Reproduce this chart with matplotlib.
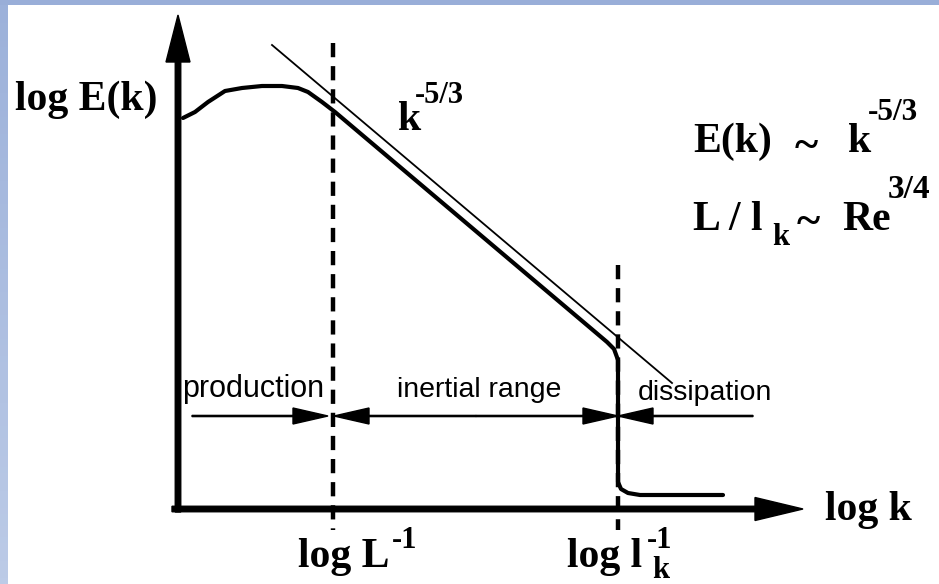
import numpy as np
import matplotlib
matplotlib.use("Agg")
import matplotlib.pyplot as plt

# schematic coordinates: x = log k, y = log E (axis corner at 0,0)
spec_x = [0.05, 0.17, 0.30, 0.47, 0.64, 0.84, 1.04, 1.20, 1.30, 1.44, 1.57,
          4.29, 4.36, 4.40, 4.40, 4.43, 4.50, 4.62, 5.45]
spec_y = [3.91, 3.97, 4.07, 4.18, 4.21, 4.23, 4.23, 4.21, 4.17, 4.07, 3.97,
          1.67, 1.60, 1.49, 0.27, 0.20, 0.16, 0.14, 0.14]

# k^-5/3 reference line
ref_x = [0.94, 4.94]
ref_y = [4.64, 1.26]

# dashed markers: log L^-1 and log l_k^-1
mark_x = [1.55, 4.40]
mark_top = [4.66, 2.44]
mark_bottom = -0.21

# region arrows (start, tip) along one row
arrow_row = 0.93
region_arrows = [(0.14, 1.50), (2.98, 1.56), (2.98, 4.40), (5.75, 4.40)]
region_names = ["production", "inertial range", "dissipation"]
region_name_x = [0.04, 2.19, 4.60]
region_name_y = [1.12, 1.12, 1.09]
region_name_size = [22, 20.5, 20.5]

serif = "Liberation Serif"
sans = "Liberation Sans"

fig = plt.figure(figsize=(9.39, 5.84), dpi=100)
fig.patch.set_facecolor("white")
ax = fig.add_axes([0, 0, 1, 1])
ax.set_xlim(-1.78, 7.61)
ax.set_ylim(-0.75, 5.09)
ax.axis("off")

# blue slide border
grad = np.linspace(0, 1, 100).reshape(-1, 1)
bax = fig.add_axes([0, 0, 8 / 939, 1])
bax.imshow(grad, aspect="auto", cmap=matplotlib.colors.LinearSegmentedColormap.from_list(
    "b", ["#9cb1da", "#bccbe7"]), extent=[0, 1, 1, 0])
bax.axis("off")
tax = fig.add_axes([0, 1 - 5 / 584, 1, 5 / 584])
tax.set_facecolor("#99aed8")
tax.set_xticks([]); tax.set_yticks([])
for s in tax.spines.values():
    s.set_visible(False)

# axes with arrows
ax.arrow(0, -0.03, 0, 4.97, width=0.055, head_width=0.24, head_length=0.47,
         length_includes_head=True, color="black", zorder=3)
ax.arrow(-0.06, 0, 6.31, 0, width=0.055, head_width=0.23, head_length=0.48,
         length_includes_head=True, color="black", zorder=3)

# spectrum and reference slope
ax.plot(spec_x, spec_y, color="black", lw=3.0, solid_capstyle="round",
        solid_joinstyle="round", zorder=4)
ax.plot(ref_x, ref_y, color="black", lw=1.3, zorder=4)

for mx, mt in zip(mark_x, mark_top):
    ax.plot([mx, mx], [mt, mark_bottom], color="black", lw=3.2,
            linestyle=(0, (3.2, 2.0)), zorder=5)

for x0, x1 in region_arrows:
    ax.arrow(x0, arrow_row, x1 - x0, 0, width=0.012, head_width=0.16,
             head_length=0.35, length_includes_head=True, color="black", zorder=4)

for name, nx, ny, fs in zip(region_names, region_name_x, region_name_y, region_name_size):
    ax.text(nx, ny, name, family=sans, fontsize=fs, ha="left", va="baseline")

# bold serif labels
bold = dict(family=serif, fontweight="bold", ha="left", va="baseline")
ax.text(-1.63, 3.99, "log E(k)", fontsize=30, **bold)
ax.text(2.20, 3.79, "k", fontsize=30, **bold)
ax.text(2.37, 4.06, "-5/3", fontsize=22, **bold)

ax.text(5.15, 3.57, "E(k)", fontsize=30, **bold)
ax.text(6.17, 3.51, "~", fontsize=32, **bold)
ax.text(6.70, 3.57, "k", fontsize=30, **bold)
ax.text(6.90, 3.89, "-5/3", fontsize=22.5, **bold)

ax.text(5.15, 2.79, "L / l", fontsize=30, **bold)
ax.text(5.94, 2.64, "k", fontsize=22, **bold)
ax.text(6.19, 2.75, "~", fontsize=32, **bold)
ax.text(6.64, 2.79, "Re", fontsize=30, **bold)
ax.text(7.10, 3.11, "3/4", fontsize=24, **bold)

ax.text(1.20, -0.58, "log L", fontsize=30, **bold)
ax.text(2.14, -0.39, "-1", fontsize=22, **bold)
ax.text(3.89, -0.58, "log l", fontsize=30, **bold)
ax.text(4.69, -0.39, "-1", fontsize=22, **bold)
ax.text(4.74, -0.69, "k", fontsize=22, **bold)
ax.text(6.47, -0.11, "log k", fontsize=30, **bold)

fig.savefig("out.png", dpi=100)
